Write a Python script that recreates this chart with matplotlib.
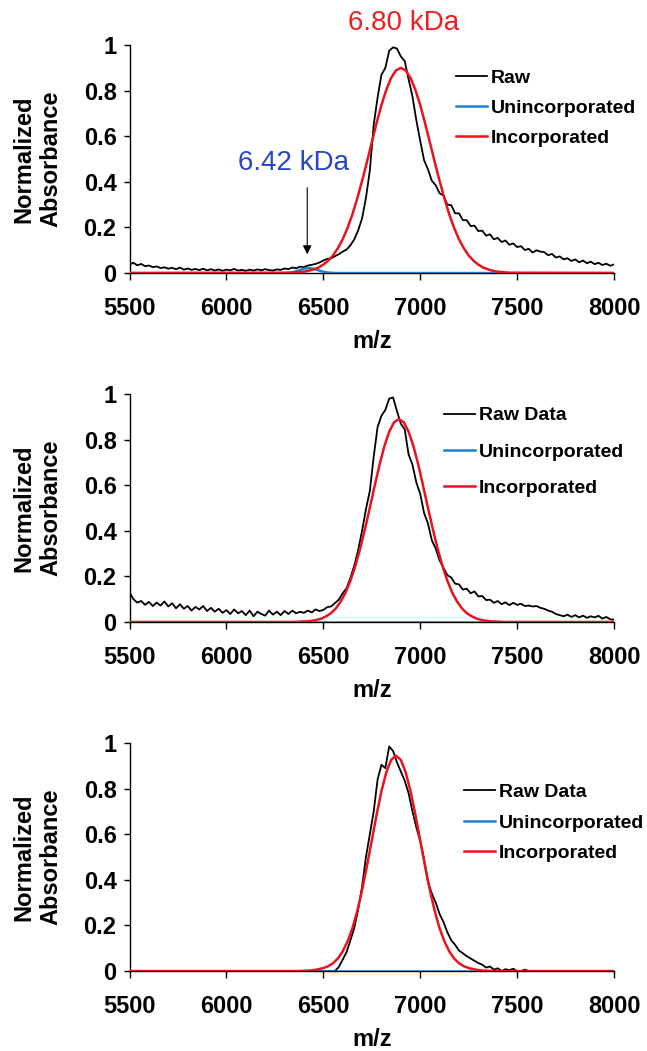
import numpy as np
import matplotlib.pyplot as plt

plt.rcParams['font.family'] = ['Liberation Sans', 'DejaVu Sans']

# m/z grid of the raw spectra (read every 20 units from the picture)
raw_mz = np.arange(5500, 8001, 20)

raw1 = [0.038, 0.045, 0.034, 0.040, 0.030, 0.033, 0.026, 0.029, 0.022, 0.025,
        0.019, 0.023, 0.017, 0.024, 0.015, 0.020, 0.014, 0.018, 0.013, 0.019,
        0.012, 0.017, 0.011, 0.016, 0.010, 0.015, 0.012, 0.018, 0.011, 0.014,
        0.010, 0.015, 0.011, 0.016, 0.012, 0.017, 0.013, 0.011, 0.016, 0.014,
        0.020, 0.017, 0.024, 0.021, 0.028, 0.026, 0.033, 0.036, 0.040, 0.046,
        0.055, 0.062, 0.064, 0.074, 0.083, 0.094, 0.103, 0.122, 0.148, 0.188,
        0.240, 0.330, 0.450, 0.650, 0.770, 0.870, 0.900, 0.975, 0.990, 0.985,
        0.950, 0.930, 0.850, 0.775, 0.670, 0.580, 0.495, 0.455, 0.405, 0.385,
        0.350, 0.340, 0.300, 0.298, 0.262, 0.262, 0.232, 0.232, 0.206, 0.208,
        0.184, 0.186, 0.164, 0.170, 0.148, 0.154, 0.136, 0.143, 0.124, 0.130,
        0.114, 0.118, 0.101, 0.106, 0.090, 0.100, 0.094, 0.092, 0.078, 0.084,
        0.068, 0.073, 0.060, 0.065, 0.053, 0.060, 0.047, 0.055, 0.043, 0.050,
        0.039, 0.045, 0.035, 0.041, 0.032, 0.038]

raw2 = [0.130, 0.100, 0.085, 0.092, 0.075, 0.088, 0.070, 0.085, 0.072, 0.090,
        0.068, 0.082, 0.060, 0.078, 0.058, 0.070, 0.050, 0.066, 0.055, 0.070,
        0.048, 0.062, 0.045, 0.058, 0.040, 0.052, 0.035, 0.055, 0.038, 0.048,
        0.030, 0.050, 0.025, 0.045, 0.035, 0.028, 0.050, 0.032, 0.045, 0.030,
        0.048, 0.035, 0.050, 0.038, 0.045, 0.040, 0.050, 0.042, 0.055, 0.048,
        0.053, 0.065, 0.068, 0.083, 0.098, 0.126, 0.148, 0.194, 0.248, 0.316,
        0.400, 0.495, 0.575, 0.725, 0.855, 0.905, 0.930, 0.980, 0.985, 0.925,
        0.870, 0.845, 0.735, 0.690, 0.612, 0.562, 0.478, 0.432, 0.358, 0.322,
        0.270, 0.238, 0.205, 0.195, 0.168, 0.165, 0.142, 0.146, 0.126, 0.134,
        0.112, 0.114, 0.096, 0.098, 0.084, 0.092, 0.078, 0.086, 0.074, 0.084,
        0.075, 0.080, 0.070, 0.072, 0.068, 0.070, 0.062, 0.058, 0.050, 0.045,
        0.035, 0.030, 0.025, 0.032, 0.022, 0.030, 0.020, 0.028, 0.018, 0.025,
        0.020, 0.027, 0.015, 0.022, 0.012, 0.010]

raw3 = ([0.0] * 54 +
        [0.018, 0.050, 0.083, 0.135, 0.190, 0.270, 0.370, 0.500, 0.600, 0.700,
         0.840, 0.905, 0.890, 0.985, 0.965, 0.915, 0.875, 0.835, 0.780, 0.700,
         0.630, 0.570, 0.490, 0.390, 0.340, 0.300, 0.250, 0.215, 0.170, 0.135,
         0.115, 0.090, 0.078, 0.065, 0.055, 0.045, 0.035, 0.028, 0.015, 0.020,
         0.006, 0.012, 0.000, 0.008, 0.004, 0.010, 0.000, 0.000, 0.006, 0.000] +
        [0.0] * 22)

fit1_mz = np.r_[5500, np.arange(6300, 7501, 25), 8000]
inc1 = [0.0,
        0.001, 0.001, 0.002, 0.004, 0.006, 0.010, 0.016, 0.024, 0.037, 0.054,
        0.077, 0.109, 0.148, 0.198, 0.257, 0.327, 0.404, 0.487, 0.573, 0.658,
        0.737, 0.804, 0.856, 0.889, 0.900, 0.889, 0.856, 0.804, 0.737, 0.658,
        0.573, 0.487, 0.404, 0.327, 0.257, 0.198, 0.148, 0.109, 0.077, 0.054,
        0.037, 0.024, 0.016, 0.010, 0.006, 0.004, 0.002, 0.001, 0.001,
        0.0]

fit2_mz = np.r_[5500, np.arange(6290, 7491, 25), 8000]
inc2 = [0.0,
        0.000, 0.000, 0.000, 0.001, 0.002, 0.003, 0.005, 0.009, 0.015, 0.025,
        0.039, 0.060, 0.090, 0.129, 0.181, 0.245, 0.321, 0.408, 0.501, 0.597,
        0.690, 0.771, 0.835, 0.876, 0.890, 0.876, 0.835, 0.771, 0.690, 0.597,
        0.501, 0.408, 0.321, 0.245, 0.181, 0.129, 0.090, 0.060, 0.039, 0.025,
        0.015, 0.009, 0.005, 0.003, 0.002, 0.001, 0.000, 0.000, 0.000,
        0.0]

fit3_mz = np.r_[5500, np.arange(6275, 7476, 25), 8000]
inc3 = [0.0,
        0.000, 0.000, 0.000, 0.000, 0.000, 0.001, 0.002, 0.004, 0.008, 0.013,
        0.021, 0.034, 0.055, 0.086, 0.130, 0.187, 0.263, 0.355, 0.460, 0.573,
        0.686, 0.789, 0.872, 0.926, 0.945, 0.926, 0.872, 0.789, 0.686, 0.573,
        0.460, 0.355, 0.263, 0.187, 0.130, 0.086, 0.055, 0.034, 0.021, 0.013,
        0.008, 0.004, 0.002, 0.001, 0.000, 0.000, 0.000, 0.000, 0.000,
        0.0]

unc1_mz = [5500, 6300, 6325, 6350, 6375, 6400, 6425, 6450, 6475, 6500, 6525, 6550, 6575, 8000]
unc1 = [0.0, 0.0, 0.002, 0.0055, 0.012, 0.019, 0.022, 0.019, 0.012, 0.0055, 0.002, 0.0005, 0.0, 0.0]
unc_flat_mz = [5500, 8000]
unc_flat = [0.0, 0.0]

x_ticks = [5500, 6000, 6500, 7000, 7500, 8000]
y_ticks = [0, 0.2, 0.4, 0.6, 0.8, 1]
y_tick_labels = ['0', '0.2', '0.4', '0.6', '0.8', '1']

panels = [
    (raw1, fit1_mz, inc1, unc1_mz, unc1, 'Raw', 0.7402, (0.674, 0.724), 0.65),
    (raw2, fit2_mz, inc2, unc_flat_mz, unc_flat, 'Raw Data', 0.4082, (0.649, 0.746), 0.96),
    (raw3, fit3_mz, inc3, unc_flat_mz, unc_flat, 'Raw Data', 0.0761, (0.690, 0.650), 0.67),
]

fig = plt.figure(figsize=(6.47, 10.51), dpi=100)
axes = []
for raw, fmz, inc, umz, unc, raw_label, bottom, leg_pos, leg_sp in panels:
    ax = fig.add_axes([0.2002, bottom, 0.7488, 0.2169])
    ax.plot(raw_mz, raw, color='black', lw=1.3, label=raw_label)
    ax.plot(umz, unc, color='#1a7fd0', lw=1.8, label='Unincorporated')
    ax.plot(fmz, inc, color='#e8141c', lw=1.8, label='Incorporated')

    ax.set_xlim(5500, 8000)
    ax.set_ylim(0, 1)
    ax.set_xticks(x_ticks)
    ax.set_yticks(y_ticks)
    ax.set_yticklabels(y_tick_labels)
    ax.tick_params(axis='x', direction='out', length=5, width=1, pad=12,
                   labelsize=17)
    ax.tick_params(axis='y', direction='out', length=4.3, width=1, pad=5,
                   labelsize=17)
    for lab in ax.get_xticklabels() + ax.get_yticklabels():
        lab.set_fontweight('bold')
    for s in ['top', 'right']:
        ax.spines[s].set_visible(False)
    for s in ['left', 'bottom']:
        ax.spines[s].set_linewidth(1)
        ax.spines[s].set_color('black')
        ax.spines[s].set_zorder(1)

    ax.set_ylabel('Normalized\nAbsorbance', fontsize=17, fontweight='bold',
                  va='center', linespacing=1.2)
    ax.yaxis.set_label_coords(-0.19, 0.5)
    ax.set_xlabel('m/z', fontsize=17, fontweight='bold', va='center')
    ax.xaxis.set_label_coords(0.5, -0.3)

    ax.legend(loc='center left', bbox_to_anchor=leg_pos, frameon=False,
              borderpad=0, borderaxespad=0, handlelength=1.6,
              handletextpad=0.2, labelspacing=leg_sp,
              prop={'size': 14, 'weight': 'bold'})
    axes.append(ax)

# annotations on the first panel
ax = axes[0]
ax.text(6916, 1.096, '6.80 kDa', color='#f01e1e', fontsize=20,
        ha='center', va='center', clip_on=False)
ax.text(6347, 0.482, '6.42 kDa', color='#2747c5', fontsize=20,
        ha='center', va='center')
ax.annotate('', xy=(6417, 0.07), xytext=(6417, 0.386),
            arrowprops=dict(arrowstyle='-|>', color='black', lw=0.8,
                            mutation_scale=13))

fig.savefig('out.png', dpi=100)
